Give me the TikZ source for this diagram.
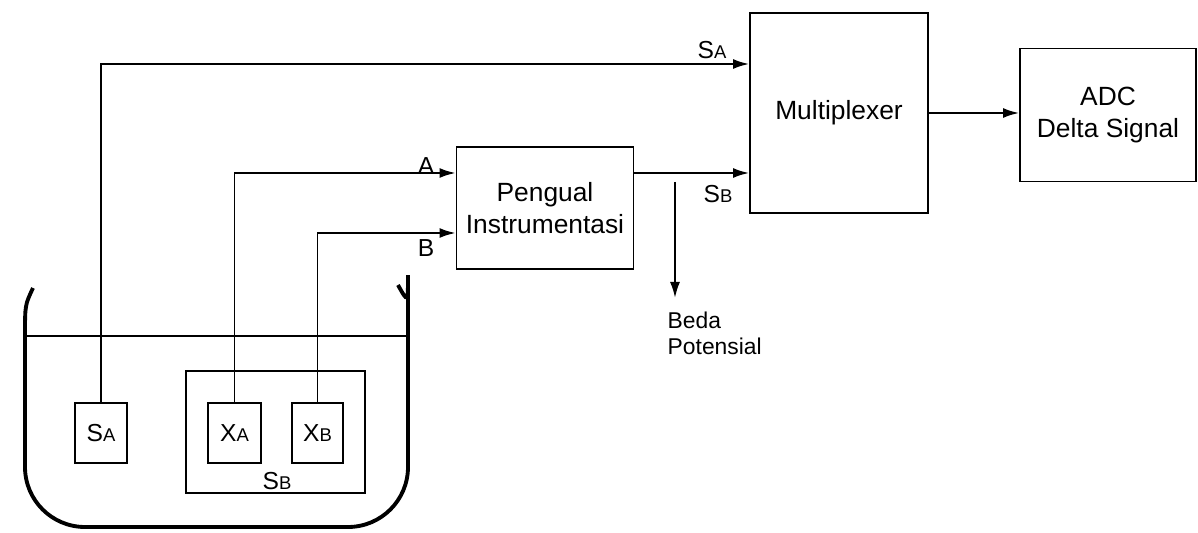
\documentclass[tikz,border=0pt]{standalone}
\usepackage{fontspec}
\setmainfont{Liberation Sans}
\usetikzlibrary{arrows.meta, positioning, calc}
\newcommand{\sig}[2]{#1\scalebox{0.75}{#2}}

\begin{document}
\begin{tikzpicture}[x=0.02cm, y=-0.02cm, line width=1.1pt,
  blok/.style={draw, line width=1.1pt, inner sep=0pt, align=center, font=\fontsize{15}{18}\selectfont},
  elek/.style={draw, line width=1.1pt, inner sep=0pt, minimum height=1.2cm, font=\fontsize{14}{16}\selectfont},
  lbl/.style={inner sep=1pt, font=\fontsize{14}{16}\selectfont},
  panah/.style={-{Latex[length=3.2mm, width=2mm]}}]
  \useasboundingbox (0,0) rectangle (1198,533);
  % blocks
  \node[blok, minimum width=3.56cm, minimum height=4cm] (mux) at (839,113) {Multiplexer};
  \node[blok, minimum width=3.52cm, minimum height=2.66cm] (adc) at (1108,115) {ADC\\Delta Signal};
  \node[blok, minimum width=3.54cm, minimum height=2.44cm] (amp) at (545,208) {Pengual\\Instrumentasi};
  % electrodes
  \node[draw, line width=1.1pt, minimum width=3.58cm, minimum height=2.44cm] (sbbox) at (275.5,432) {};
  \node[lbl] (sblbl) at (277,481) {\sig{S}{B}};
  \node[elek, minimum width=1.04cm] (sa) at (101,433) {\sig{S}{A}};
  \node[elek, minimum width=1.06cm] (xa) at (234.5,433) {\sig{X}{A}};
  \node[elek, minimum width=1.02cm] (xb) at (317.5,433) {\sig{X}{B}};
  % container and liquid level
  \draw[line width=2.2pt] (33,288) .. controls (25,305) .. (25,335)
    [rounded corners=1.2cm] -- (25,527) -- (408,527) -- (408,335)
    [sharp corners] .. controls (408,303) .. (398,285);
  \draw (26,336) -- (407,336);
  % wiring
  \coordinate (topy) at (0,64);
  \coordinate (ina) at ($(amp.west)+(0,-35)$);
  \coordinate (inb) at ($(amp.west)+(0,25)$);
  \coordinate (outb) at ($(amp.east)+(0,-35)$);
  \coordinate (tap) at (675,182);
  \draw[panah] (sa.north) -- (sa.north |- topy) -- (mux.west |- topy);
  \draw[panah] (xa.north) |- (ina);
  \draw[panah] (xb.north) |- (inb);
  \draw[panah] (outb) -- (mux.west |- outb);
  \draw[panah] (mux.east) -- (mux.east -| adc.west);
  \node[lbl, anchor=north west, align=left, font=\fontsize{13}{15}\selectfont] (beda) at (665,309) {Beda\\Potensial};
  \draw[panah] (tap) -- ++(0,116);
  % labels
  \node[lbl] (lsa) at (712,50) {\sig{S}{A}};
  \node[lbl] (lsb) at (718,194) {\sig{S}{B}};
  \node[lbl] (la) at (426,166) {A};
  \node[lbl] (lb) at (426,248) {B};
\end{tikzpicture}
\end{document}
